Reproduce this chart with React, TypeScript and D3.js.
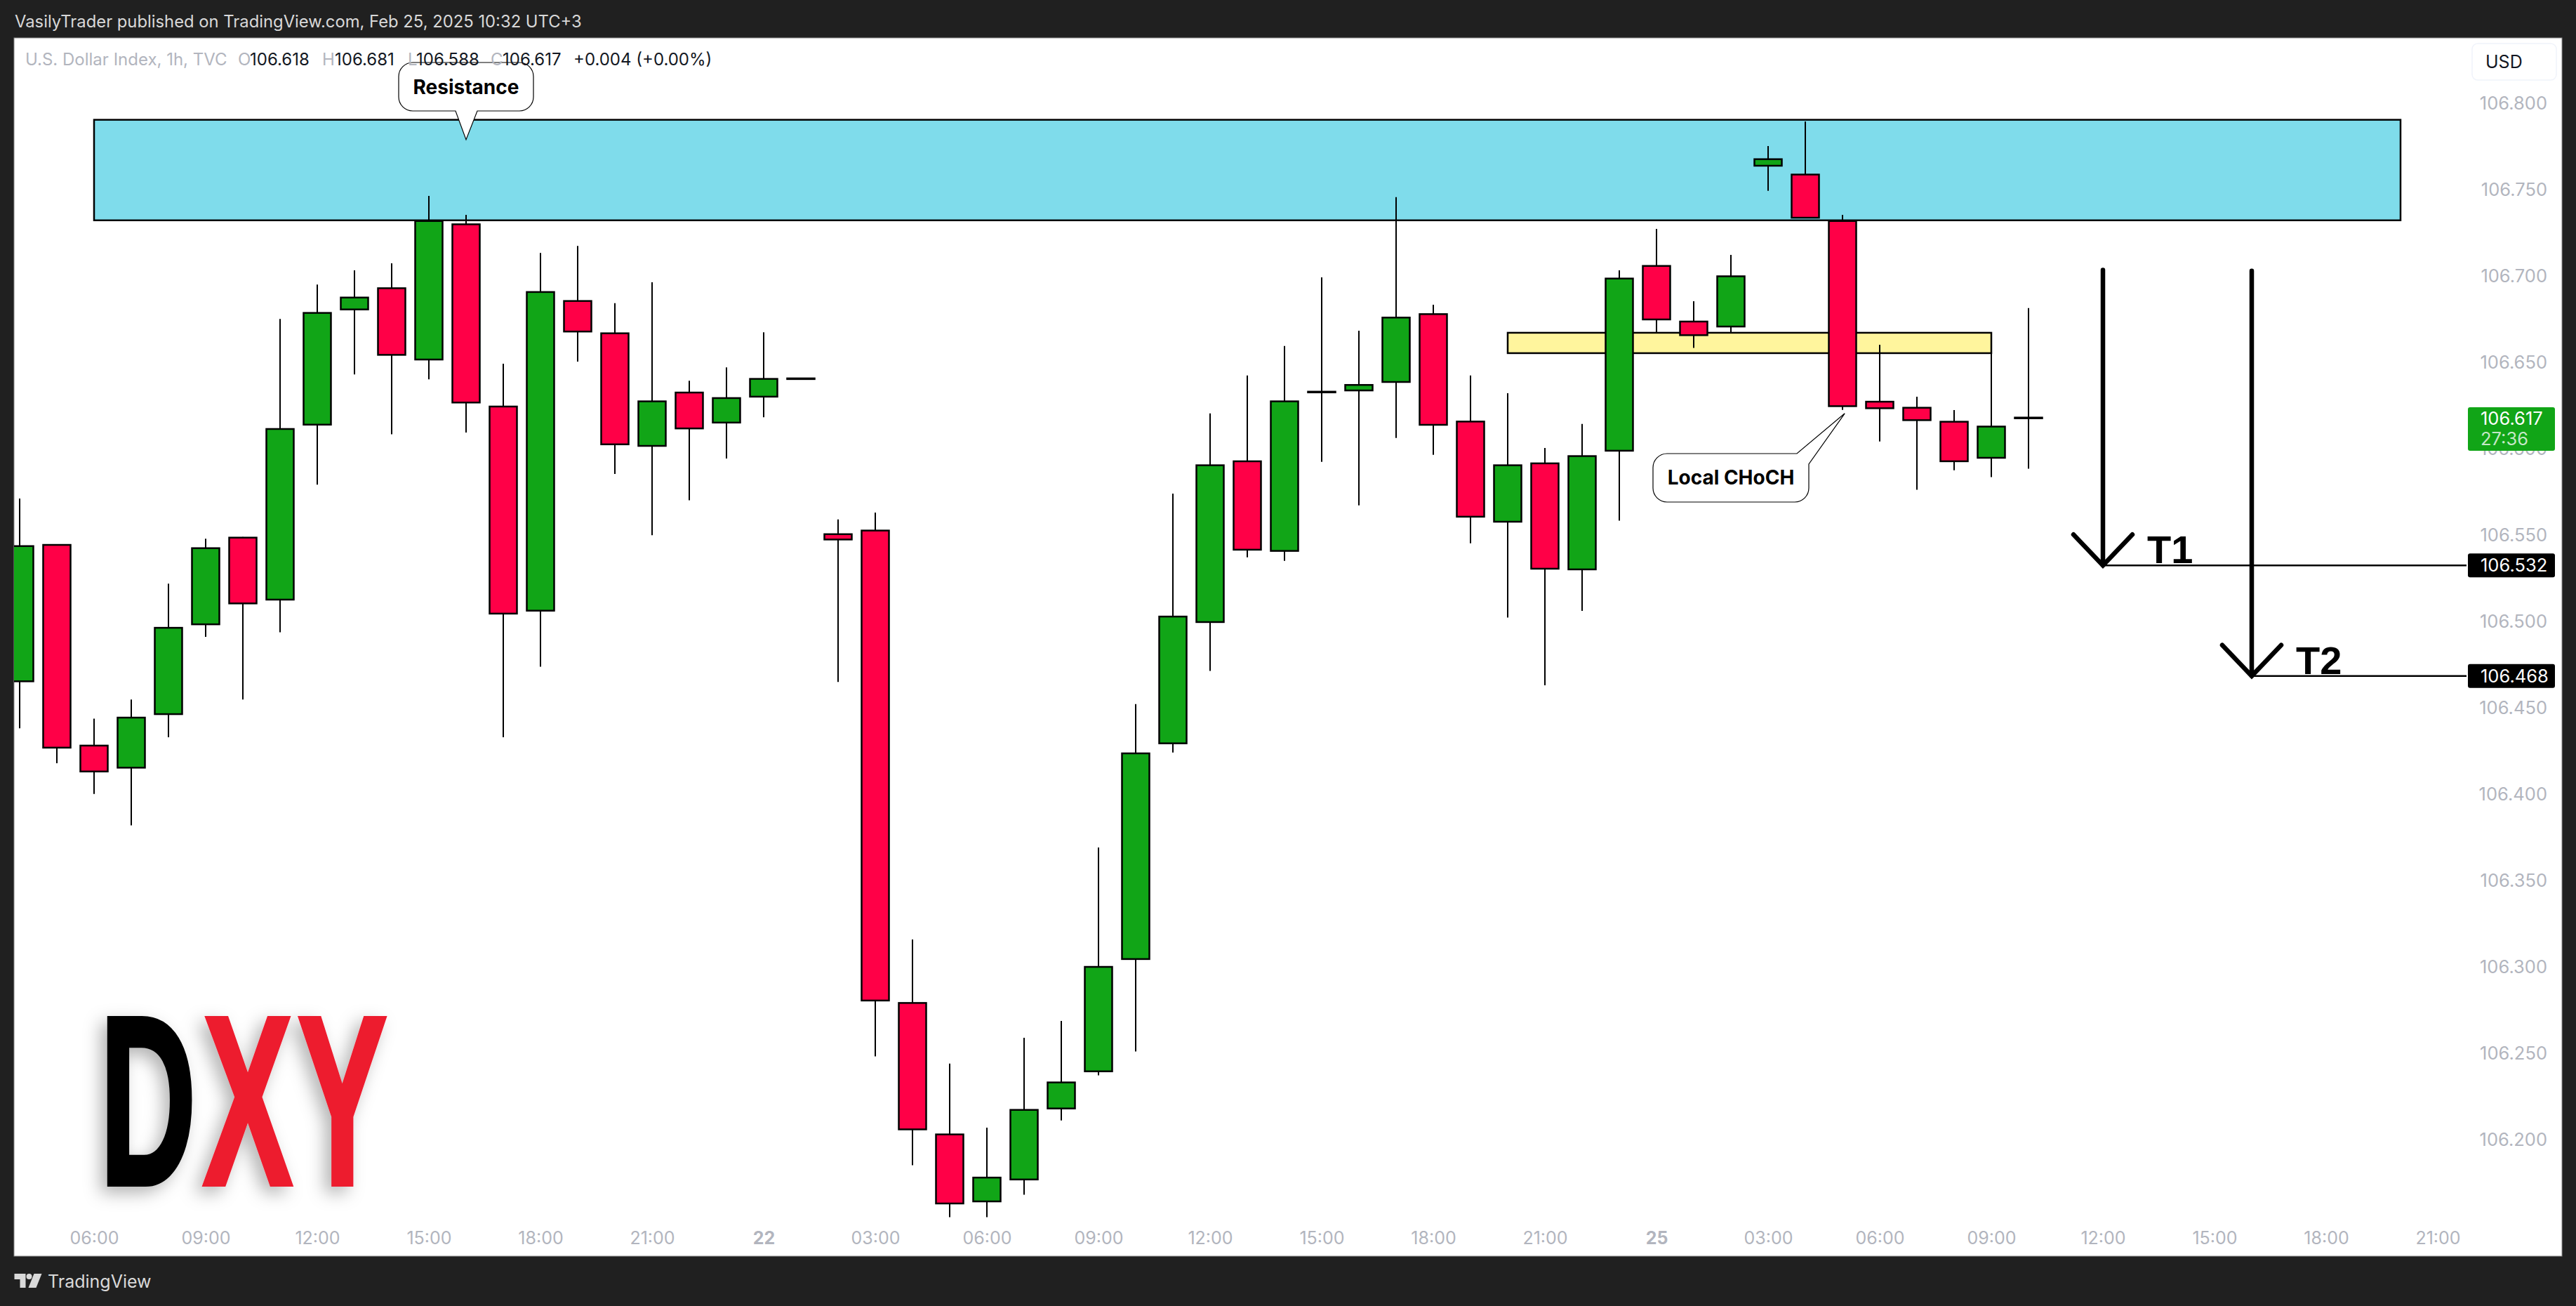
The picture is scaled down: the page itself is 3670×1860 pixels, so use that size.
import * as d3 from 'd3';
import { useEffect, useRef } from 'react';

const opens = [106.4645, 106.5443, 106.4281, 106.4145, 106.4455, 106.4975, 106.5485, 106.5118, 106.6131, 106.6798, 106.6929, 106.6508, 106.7299, 106.6244, 106.5054, 106.6855, 106.6668, 106.6008, 106.6325, 106.6143, 106.6293, 106.6407, 106.5505, 106.5526, 106.2791, 106.2030, 106.1634, 106.1761, 106.2172, 106.2387, 106.3037, 106.4286, 106.4988, 106.5927, 106.5400, 106.6330, 106.6329, 106.6378, 106.6779, 106.6157, 106.5569, 106.5915, 106.5293, 106.5980, 106.7058, 106.6736, 106.6699, 106.7630, 106.7587, 106.7318, 106.6272, 106.6237, 106.6156, 106.5939, 106.618];
const highs = [106.5707, 106.5443, 106.4433, 106.4544, 106.5214, 106.5475, 106.5485, 106.6747, 106.6946, 106.7028, 106.7069, 106.7459, 106.7350, 106.6488, 106.7129, 106.7170, 106.6838, 106.6959, 106.6389, 106.6466, 106.6670, 106.6407, 106.5586, 106.5626, 106.3154, 106.2436, 106.2065, 106.2585, 106.2683, 106.3687, 106.4517, 106.5736, 106.6200, 106.6420, 106.6590, 106.6988, 106.6679, 106.7452, 106.6829, 106.6420, 106.6317, 106.6000, 106.6139, 106.7028, 106.7268, 106.6850, 106.7118, 106.7748, 106.7890, 106.7350, 106.6598, 106.6297, 106.6220, 106.6549, 106.681];
const lows = [106.4377, 106.4175, 106.3997, 106.3815, 106.4325, 106.4906, 106.4544, 106.4933, 106.5788, 106.6426, 106.6079, 106.6397, 106.6089, 106.4325, 106.4734, 106.6500, 106.5850, 106.5495, 106.5697, 106.5939, 106.6178, 106.6407, 106.4645, 106.2478, 106.1848, 106.1547, 106.1547, 106.1677, 106.2107, 106.2368, 106.2506, 106.4237, 106.4709, 106.5367, 106.5347, 106.5920, 106.5668, 106.6058, 106.5960, 106.5448, 106.5018, 106.4626, 106.5057, 106.5579, 106.6667, 106.6579, 106.6667, 106.7489, 106.7329, 106.6221, 106.6038, 106.5758, 106.5871, 106.5831, 106.588];
const closes = [106.5436, 106.4261, 106.4123, 106.4443, 106.4963, 106.5424, 106.5096, 106.6114, 106.6786, 106.6875, 106.6535, 106.7318, 106.6259, 106.5037, 106.6907, 106.6670, 106.6017, 106.6274, 106.6109, 106.6293, 106.6404, 106.6407, 106.5466, 106.2797, 106.2051, 106.1622, 106.1780, 106.2172, 106.2331, 106.3000, 106.4236, 106.5028, 106.5904, 106.5407, 106.6274, 106.6330, 106.6369, 106.6759, 106.6130, 106.5598, 106.5904, 106.5297, 106.5957, 106.6985, 106.6740, 106.6649, 106.6998, 106.7676, 106.7329, 106.6238, 106.6226, 106.6157, 106.5919, 106.6128, 106.617];

// tick index counted in bars from the first candle (04:00)
const timeTicks = [2, 5, 8, 11, 14, 17, 20, 23, 26, 29, 32, 35, 38, 41, 44, 47, 50, 53, 56, 59, 62, 65];
const timeLabels = ['06:00', '09:00', '12:00', '15:00', '18:00', '21:00', '22', '03:00', '06:00', '09:00', '12:00', '15:00', '18:00', '21:00', '25', '03:00', '06:00', '09:00', '12:00', '15:00', '18:00', '21:00'];
const priceTicks = [106.8, 106.75, 106.7, 106.65, 106.6, 106.55, 106.5, 106.45, 106.4, 106.35, 106.3, 106.25, 106.2];

const legendParts = [
  { text: 'U.S. Dollar Index, 1h, TVC', x: 36, faint: true },
  { text: 'O', x: 339, faint: true },
  { text: '106.618', x: 356, faint: false },
  { text: 'H', x: 459, faint: true },
  { text: '106.681', x: 477, faint: false },
  { text: 'L', x: 581, faint: true },
  { text: '106.588', x: 593, faint: false },
  { text: 'C', x: 699, faint: true },
  { text: '106.617', x: 716, faint: false },
  { text: '+0.004 (+0.00%)', x: 817, faint: false },
];

const resistanceZone = { from: 2, to: 64, top: 106.79, bottom: 106.7318 };
const chochZone = { from: 40, to: 53, top: 106.6667, bottom: 106.6549 };
const targets = [
  { name: 'T1', price: 106.532, bar: 56, start: 106.703 },
  { name: 'T2', price: 106.468, bar: 60, start: 106.7025 },
];
const lastPrice = 106.617;

const GREEN = '#11a517';
const RED = '#ff0047';
const AXIS = '#b2b5be';
const SANS = 'Inter, "Liberation Sans", sans-serif';
const AXIS_SIZE = 25.5;

const width = 3670;
const height = 1860;
const panel = { left: 20, top: 54, right: 3650, bottom: 1789 };

const drawChart = (container: SVGSVGElement) => {
  const xScale = d3.scaleLinear([0, 65], [28, 3473]);
  const yScale = d3.scaleLinear([106.2, 106.8], [1622, 146]);
  const bodyWidth = 41;

  const svg = d3.select(container);
  svg.selectAll('*').remove();
  svg.attr('width', width).attr('height', height).attr('viewBox', `0 0 ${width} ${height}`)
    .attr('style', 'position:absolute;left:0;top:0;display:block;font-family:' + SANS.replace(/"/g, "'"));

  const defs = svg.append('defs');
  defs.append('clipPath').attr('id', 'plot').append('rect')
    .attr('x', panel.left).attr('y', panel.top)
    .attr('width', panel.right - panel.left).attr('height', panel.bottom - panel.top);
  const shadow = defs.append('filter').attr('id', 'logoShadow')
    .attr('x', '-30%').attr('y', '-30%').attr('width', '160%').attr('height', '160%');
  shadow.append('feDropShadow').attr('dx', -9).attr('dy', 9).attr('stdDeviation', 12)
    .attr('flood-color', '#000').attr('flood-opacity', 0.3);

  svg.append('rect').attr('width', width).attr('height', height).attr('fill', '#202020');
  svg.append('rect').attr('x', panel.left).attr('y', panel.top)
    .attr('width', panel.right - panel.left).attr('height', panel.bottom - panel.top)
    .attr('fill', '#fff').attr('stroke', '#8a8a8a').attr('stroke-width', 1);

  svg.append('text').attr('x', 21).attr('y', 39).attr('fill', '#d8d8d8').attr('font-size', 23.8)
    .text('VasilyTrader published on TradingView.com, Feb 25, 2025 10:32 UTC+3');

  const chart = svg.append('g').attr('clip-path', 'url(#plot)');

  // DXY watermark, one text squeezed sideways since no condensed font is installed
  const logo = chart.append('g').attr('filter', 'url(#logoShadow)').append('text')
    .attr('transform', 'translate(142,1686.5) scale(0.555,1)')
    .attr('font-family', '"Liberation Sans", Arial, sans-serif').attr('font-weight', 700)
    .attr('font-size', 343).attr('stroke-width', 7);
  logo.append('tspan').attr('fill', '#000').attr('stroke', '#000').text('D');
  logo.append('tspan').attr('dx', 18).attr('fill', '#ed1c2e').attr('stroke', '#ed1c2e').text('X');
  logo.append('tspan').attr('dx', 14).attr('fill', '#ed1c2e').attr('stroke', '#ed1c2e').text('Y');

  const zone = (z: typeof resistanceZone, fill: string, strokeWidth: number) => {
    chart.append('rect')
      .attr('x', xScale(z.from)).attr('y', yScale(z.top))
      .attr('width', xScale(z.to) - xScale(z.from)).attr('height', yScale(z.bottom) - yScale(z.top))
      .attr('fill', fill).attr('stroke', '#000').attr('stroke-width', strokeWidth);
  };
  zone(resistanceZone, '#7fdceb', 2.5);
  zone(chochZone, '#fff59d', 2.5);

  const range = d3.range(opens.length);
  chart.append('g').selectAll('line').data(range).join('line')
    .attr('x1', i => xScale(i)).attr('x2', i => xScale(i))
    .attr('y1', i => yScale(highs[i])).attr('y2', i => yScale(lows[i]))
    .attr('stroke', '#000').attr('stroke-width', 2);
  chart.append('g').selectAll('rect').data(range).join('rect')
    .attr('x', i => xScale(i) - bodyWidth / 2 + 1)
    .attr('width', bodyWidth - 2)
    .attr('y', i => yScale(Math.max(opens[i], closes[i])) + 1)
    .attr('height', i => Math.max(Math.abs(yScale(opens[i]) - yScale(closes[i])) - 2, 1))
    .attr('fill', i => (closes[i] >= opens[i] ? GREEN : RED))
    .attr('stroke', '#000').attr('stroke-width', 2.5);

  // axes
  const yAxis = d3.axisRight(yScale).tickValues(priceTicks).tickFormat(d3.format('.3f')).tickSize(0);
  const yGroup = svg.append('g').attr('transform', 'translate(3629,0)').call(yAxis);
  yGroup.select('.domain').remove();
  yGroup.selectAll('text').attr('x', 0).attr('dy', '0.36em').attr('text-anchor', 'end').attr('fill', AXIS)
    .attr('font-size', AXIS_SIZE).attr('font-family', SANS);

  const xAxis = d3.axisBottom(xScale).tickValues(timeTicks)
    .tickFormat((_, i) => timeLabels[i]).tickSize(0);
  const xGroup = svg.append('g').attr('transform', 'translate(0,1754)').call(xAxis);
  xGroup.select('.domain').remove();
  xGroup.selectAll('text').attr('y', 0).attr('dy', '0.71em').attr('fill', AXIS)
    .attr('font-size', 25).attr('font-family', SANS)
    .attr('font-weight', (_, i) => (timeLabels[i].length < 3 ? 700 : 400));

  // USD button
  svg.append('rect').attr('x', 3522).attr('y', 62).attr('width', 120).attr('height', 52).attr('rx', 8)
    .attr('fill', '#fff').attr('stroke', '#f0f3fa').attr('stroke-width', 1.5);
  svg.append('text').attr('x', 3541).attr('y', 97).attr('font-size', 25).attr('fill', '#131722').text('USD');

  // target arrows
  targets.forEach(t => {
    const ax = xScale(t.bar);
    const ay = yScale(t.price);
    chart.append('line').attr('x1', ax).attr('x2', 3514).attr('y1', ay).attr('y2', ay)
      .attr('stroke', '#000').attr('stroke-width', 2.5);
    chart.append('path')
      .attr('d', `M${ax},${yScale(t.start)}V${ay}M${ax - 42},${ay - 44}L${ax},${ay}L${ax + 42},${ay - 44}`)
      .attr('fill', 'none').attr('stroke', '#000').attr('stroke-width', 6.5).attr('stroke-linecap', 'round');
    svg.append('text').attr('x', ax + 63).attr('y', ay - 3)
      .attr('font-family', '"Liberation Sans", Arial, sans-serif').attr('font-weight', 700)
      .attr('font-size', 56).attr('fill', '#000').text(t.name);
    svg.append('rect').attr('x', 3516).attr('y', ay - 17).attr('width', 124).attr('height', 34).attr('rx', 3).attr('fill', '#000');
    svg.append('text').attr('x', 3534).attr('y', ay).attr('dy', '0.36em').attr('font-size', AXIS_SIZE).attr('fill', '#fff')
      .text(d3.format('.3f')(t.price));
  });

  // current price tag
  svg.append('rect').attr('x', 3516).attr('y', 580).attr('width', 124).attr('height', 62).attr('rx', 3).attr('fill', GREEN);
  svg.append('text').attr('x', 3534).attr('y', yScale(lastPrice)).attr('dy', '0.36em').attr('font-size', AXIS_SIZE).attr('fill', '#fff')
    .text(d3.format('.3f')(lastPrice));
  svg.append('text').attr('x', 3534).attr('y', 634).attr('font-size', AXIS_SIZE).attr('fill', '#c4e8c6').text('27:36');

  // callouts
  const callout = (label: string, cx: number, cy: number, draw: (p: d3.Path) => void) => {
    const p = d3.path();
    draw(p);
    chart.append('path').attr('d', p.toString()).attr('fill', '#fff').attr('stroke', '#000').attr('stroke-width', 1.2);
    chart.append('text').attr('x', cx).attr('y', cy).attr('dy', '0.36em').attr('text-anchor', 'middle')
      .attr('font-weight', 700).attr('font-size', 28).attr('fill', '#000').text(label);
  };

  const tipA = { x: xScale(12), y: yScale(106.7785) };
  callout('Resistance', 664, 124, p => {
    p.moveTo(588, 89);
    p.lineTo(740, 89);
    p.arcTo(760, 89, 760, 109, 20);
    p.lineTo(760, 138);
    p.arcTo(760, 158, 740, 158, 20);
    p.lineTo(680, 158);
    p.lineTo(tipA.x, tipA.y);
    p.lineTo(649, 158);
    p.lineTo(588, 158);
    p.arcTo(568, 158, 568, 138, 20);
    p.lineTo(568, 109);
    p.arcTo(568, 89, 588, 89, 20);
    p.closePath();
  });

  const tipB = { x: xScale(49.06), y: yScale(106.62) };
  callout('Local CHoCH', 2466, 680, p => {
    p.moveTo(2375, 646);
    p.lineTo(2560, 646);
    p.lineTo(tipB.x, tipB.y);
    p.lineTo(2577, 661);
    p.lineTo(2577, 695);
    p.arcTo(2577, 715, 2557, 715, 20);
    p.lineTo(2375, 715);
    p.arcTo(2355, 715, 2355, 695, 20);
    p.lineTo(2355, 666);
    p.arcTo(2355, 646, 2375, 646, 20);
    p.closePath();
  });

  // legend on top of everything
  svg.append('g').selectAll('text').data(legendParts).join('text')
    .attr('x', d => d.x).attr('y', 93).attr('font-size', 24)
    .attr('fill', d => (d.faint ? AXIS : '#131722')).text(d => d.text);

  // footer logo
  const mark = svg.append('g').attr('transform', 'translate(20.5,1814)').attr('fill', '#d9d9d9');
  mark.append('path').attr('d', 'M0 0H16V20H8V8H0Z');
  mark.append('circle').attr('cx', 21).attr('cy', 4).attr('r', 4);
  mark.append('path').attr('d', 'M28 0H39L31 20H20Z');
  svg.append('text').attr('x', 68).attr('y', 1834).attr('font-size', 25).attr('fill', '#d9d9d9').text('TradingView');
};

export default function App() {
  const ref = useRef<SVGSVGElement>(null);
  useEffect(() => {
    if (ref.current) {
      drawChart(ref.current);
    }
  }, []);
  return <svg ref={ref} />;
}
